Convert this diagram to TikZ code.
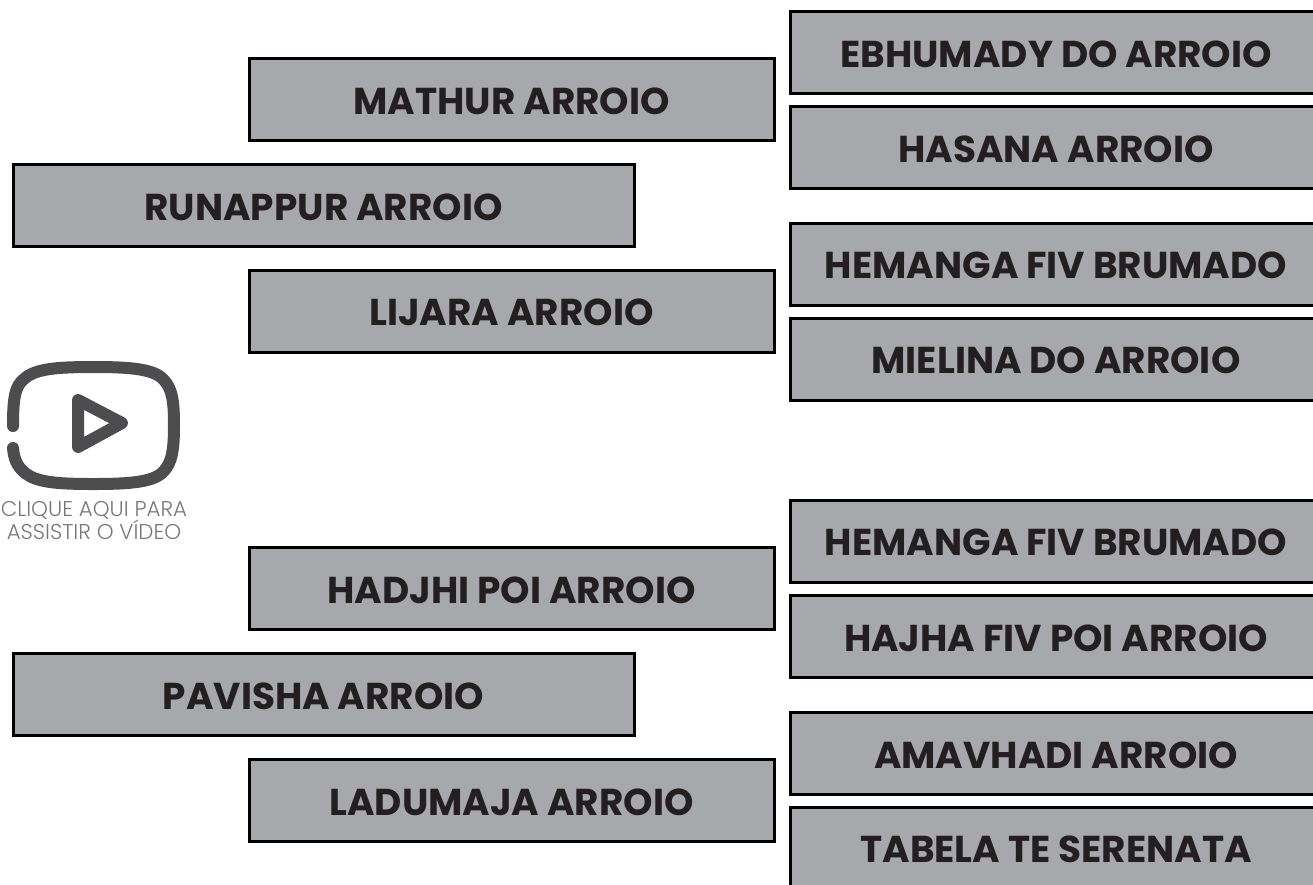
\documentclass[tikz,border=0pt]{standalone}
\usepackage{fontspec}
\setmainfont{Poppins}[UprightFont=* SemiBold,BoldFont=* Bold]
\newfontfamily\lightfont{Poppins}[UprightFont=* Light]
\definecolor{boxgray}{HTML}{A7A8AC}
\definecolor{txtdark}{HTML}{231F20}
\definecolor{icongray}{HTML}{4D4D4F}
\definecolor{capgray}{HTML}{77787B}
\tikzset{
  boxbase/.style={draw=black,line width=3pt,fill=boxgray,text=txtdark,minimum height=82pt,inner sep=0pt,text height=29pt,text depth=0pt,font=\bfseries\fontsize{37.4}{36}\selectfont,anchor=center},
  longbox/.style={boxbase,minimum width=525pt},
  midbox/.style={boxbase,minimum width=621pt},
  rightbox/.style={boxbase,minimum width=532pt},
  iconline/.style={draw=icongray,line width=12pt,line cap=round,line join=round},
  captext/.style={text=capgray,font=\lightfont\fontsize{21.4}{21}\selectfont,align=center,inner sep=0pt}
}
\begin{document}
\begin{tikzpicture}[x=1pt,y=-1pt]
\useasboundingbox (0,0) rectangle (1313,884);
\clip (0,0) rectangle (1313,884);
\node[longbox] (mathur) at (511.5,99.5) {MATHUR ARROIO};
\node[midbox] (runappur) at (323.5,205.5) {RUNAPPUR ARROIO};
\node[longbox] (lijara) at (511.5,311) {LIJARA ARROIO};
\node[longbox] (hadjhi) at (511.5,588.5) {HADJHI POI ARROIO};
\node[midbox] (pavisha) at (323.5,694.5) {PAVISHA ARROIO};
\node[longbox] (ladumaja) at (511.5,800.5) {LADUMAJA ARROIO};
\node[rightbox] (ebhumady) at (1056,52.5) {EBHUMADY DO ARROIO};
\node[rightbox] (hasana) at (1056,147.5) {HASANA ARROIO};
\node[rightbox] (hemanga) at (1056,264) {HEMANGA FIV BRUMADO};
\node[rightbox] (mielina) at (1056,359) {MIELINA DO ARROIO};
\node[rightbox] (hemangab) at (1056,541) {HEMANGA FIV BRUMADO};
\node[rightbox] (hajha) at (1056,636.5) {HAJHA FIV POI ARROIO};
\node[rightbox] (amavhadi) at (1056,753.5) {AMAVHADI ARROIO};
\node[rightbox] (tabela) at (1056,848) {TABELA TE SERENATA};
% play icon
\draw[iconline] (13,426) .. controls (13,398) and (15,386) .. (24,379)
  .. controls (35,369) and (55,367) .. (93,367)
  .. controls (131,367) and (153,369) .. (163,379)
  .. controls (172,388) and (174,400) .. (174,425)
  .. controls (174,450) and (172,463) .. (163,472)
  .. controls (153,482) and (131,484) .. (93,484)
  .. controls (55,484) and (35,482) .. (24,472)
  .. controls (17,466) and (14,459) .. (13,448);
\draw[iconline] (78,400) -- (122,423) -- (78,447) -- cycle;
\node[captext] (caption) at (94,520.5) {CLIQUE AQUI PARA\\ASSISTIR O VÍDEO};
\end{tikzpicture}
\end{document}
